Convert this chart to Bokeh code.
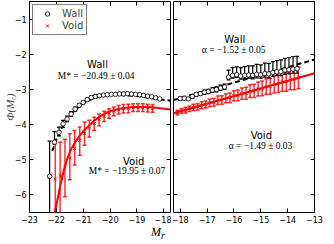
from bokeh.plotting import figure
from bokeh.models import Range1d, FixedTicker, LinearAxis, Label, Legend, LegendItem, Div
from bokeh.layouts import row, column
from bokeh.embed import file_html
from bokeh.resources import INLINE

# ---------------- data ----------------
# left panel (bright end)
wall_left_M = [-22.25, -22.07, -21.9, -21.75, -21.6, -21.45, -21.3, -21.15, -21.0, -20.85,
               -20.7, -20.55, -20.4, -20.25, -20.1, -19.95, -19.8, -19.65, -19.5, -19.35,
               -19.2, -19.05, -18.9, -18.75, -18.6, -18.45, -18.3, -18.15]
wall_left_phi = [-5.47, -4.50, -4.22, -3.98, -3.84, -3.70, -3.56, -3.45, -3.37, -3.29,
                 -3.23, -3.20, -3.18, -3.16, -3.15, -3.14, -3.14, -3.13, -3.13, -3.12,
                 -3.13, -3.14, -3.15, -3.17, -3.19, -3.21, -3.24, -3.27]
wall_left_up = [1.00, 0.30, 0.15, 0.10, 0.08, 0.07, 0.06, 0.05, 0.04, 0.04,
                0.04, 0.03, 0.03, 0.03, 0.03, 0.03, 0.03, 0.03, 0.03, 0.03,
                0.03, 0.03, 0.03, 0.03, 0.03, 0.03, 0.03, 0.03]
wall_left_dn = [2.00, 0.05, 0.10, 0.10, 0.08, 0.07, 0.06, 0.05, 0.04, 0.04,
                0.04, 0.03, 0.03, 0.03, 0.03, 0.03, 0.03, 0.03, 0.03, 0.03,
                0.03, 0.03, 0.03, 0.03, 0.03, 0.03, 0.03, 0.03]

void_left_M = [-22.04, -21.86, -21.68, -21.5, -21.32, -21.13, -20.95, -20.77, -20.59, -20.41,
               -20.22, -20.04, -19.86, -19.68, -19.5, -19.32, -19.14, -18.96, -18.78, -18.6, -18.42]
void_left_phi = [-5.55, -5.45, -5.20, -4.95, -4.68, -4.45, -4.25, -4.10, -3.97, -3.86,
                 -3.76, -3.68, -3.62, -3.58, -3.55, -3.54, -3.52, -3.52, -3.52, -3.53, -3.54]
void_left_up = [1.10, 0.95, 0.78, 0.69, 0.51, 0.38, 0.32, 0.22, 0.18, 0.16,
                0.14, 0.13, 0.12, 0.12, 0.12, 0.12, 0.11, 0.11, 0.11, 0.11, 0.11]
void_left_dn = [2.00, 2.00, 0.85, 0.62, 0.47, 0.42, 0.34, 0.25, 0.20, 0.17,
                0.15, 0.14, 0.13, 0.12, 0.12, 0.12, 0.11, 0.11, 0.11, 0.11, 0.11]

# fitted Schechter curves
wall_fit_left_M = [-22.15, -22.0, -21.85, -21.7, -21.5, -21.3, -21.1, -20.9, -20.7, -20.5,
                   -20.2, -19.9, -19.6, -19.3, -19.0, -18.7, -18.4, -18.1, -17.75]
wall_fit_left_phi = [-4.75, -4.42, -4.17, -3.97, -3.76, -3.59, -3.45, -3.35, -3.28, -3.23,
                     -3.18, -3.16, -3.16, -3.17, -3.19, -3.22, -3.25, -3.29, -3.32]
void_fit_left_M = [-22.06, -21.95, -21.85, -21.72, -21.6, -21.45, -21.3, -21.15, -21.0, -20.8,
                   -20.6, -20.4, -20.2, -20.0, -19.7, -19.4, -19.1, -18.8, -18.5, -18.2, -17.75]
void_fit_left_phi = [-6.5, -6.1, -5.72, -5.3, -4.98, -4.7, -4.5, -4.33, -4.19, -4.04,
                     -3.9, -3.78, -3.69, -3.62, -3.56, -3.52, -3.5, -3.5, -3.51, -3.53, -3.57]

# right panel (faint end)
wall_right_M = [-18.0, -17.85, -17.7, -17.55, -17.4, -17.25, -17.1, -16.95, -16.8, -16.65,
                -16.5, -16.35, -16.2, -16.05, -15.9, -15.75, -15.6, -15.45, -15.3, -15.15,
                -15.0, -14.85, -14.7, -14.55, -14.4, -14.25, -14.1, -13.95, -13.8, -13.65]
wall_right_phi = [-3.26, -3.25, -3.27, -3.20, -3.14, -3.12, -3.08, -3.06, -3.02, -3.00,
                  -2.96, -2.93, -2.65, -2.60, -2.58, -2.62, -2.60, -2.59, -2.60, -2.57,
                  -2.58, -2.55, -2.56, -2.52, -2.50, -2.49, -2.45, -2.44, -2.42, -2.41]
wall_right_up = [0.04, 0.04, 0.04, 0.05, 0.05, 0.05, 0.06, 0.06, 0.07, 0.07,
                 0.08, 0.08, 0.20, 0.22, 0.22, 0.24, 0.25, 0.26, 0.27, 0.28,
                 0.28, 0.30, 0.30, 0.31, 0.32, 0.33, 0.33, 0.34, 0.35, 0.35]
wall_right_dn = [0.04, 0.04, 0.04, 0.05, 0.05, 0.05, 0.06, 0.06, 0.06, 0.07,
                 0.07, 0.07, 0.08, 0.08, 0.08, 0.09, 0.09, 0.09, 0.10, 0.10,
                 0.10, 0.10, 0.11, 0.11, 0.11, 0.12, 0.12, 0.12, 0.12, 0.13]

void_right_M = [-18.1, -17.95, -17.8, -17.65, -17.5, -17.35, -17.2, -17.05, -16.9, -16.75,
                -16.6, -16.45, -16.3, -16.15, -16.0, -15.85, -15.7, -15.55, -15.4, -15.25,
                -15.1, -14.95, -14.8, -14.65, -14.5, -14.35, -14.2, -14.05, -13.9, -13.75, -13.6]
void_right_phi = [-3.66, -3.61, -3.59, -3.55, -3.51, -3.50, -3.45, -3.43, -3.38, -3.37,
                  -3.31, -3.30, -3.25, -3.24, -3.18, -3.17, -3.12, -3.11, -3.05, -3.04,
                  -2.99, -2.97, -2.92, -2.91, -2.86, -2.84, -2.79, -2.78, -2.73, -2.71, -2.67]
void_right_err = [0.07, 0.07, 0.08, 0.08, 0.09, 0.09, 0.10, 0.10, 0.11, 0.11,
                  0.12, 0.12, 0.13, 0.14, 0.14, 0.15, 0.16, 0.17, 0.18, 0.19,
                  0.20, 0.21, 0.22, 0.23, 0.24, 0.25, 0.26, 0.27, 0.28, 0.30, 0.31]

wall_fit_right_M = [-18.25, -13.0]
wall_fit_right_phi = [-3.30, -2.15]
void_fit_right_M = [-18.25, -13.0]
void_fit_right_phi = [-3.68, -2.54]

left_xticks = [-23, -22, -21, -20, -19, -18]
right_xticks = [-18, -17, -16, -15, -14, -13]
yticks = [-6, -5, -4, -3, -2, -1]

RED = "#ff0000"
FONT = "DejaVu Sans"
SERIF = "Liberation Serif"


def lab(t):
    return ("\u2212%d" % -t) if t < 0 else str(t)


def style_axis(ax, ticks, labels=True):
    ax.ticker = FixedTicker(ticks=ticks)
    ax.major_tick_in = 4
    ax.major_tick_out = 0
    ax.minor_tick_line_color = None
    ax.axis_line_color = None
    ax.major_tick_line_color = "black"
    ax.major_tick_line_width = 1
    ax.major_label_text_font = FONT
    ax.major_label_text_font_size = "8px"
    ax.major_label_text_color = "black"
    if labels:
        ax.major_label_standoff = 3
        ax.major_label_overrides = {t: lab(t) for t in ticks}
    else:
        ax.major_label_standoff = 0
        ax.major_label_overrides = {t: "" for t in ticks}


def make_fig(xr, xticks, left_border, right_border, ylabels):
    p = figure(frame_width=141, frame_height=211,
               x_range=Range1d(*xr), y_range=Range1d(-6.5, -0.5),
               output_backend="svg", toolbar_location=None,
               min_border_left=left_border, min_border_right=right_border,
               min_border_top=1, min_border_bottom=0)
    p.xgrid.visible = False
    p.ygrid.visible = False
    p.outline_line_color = "black"
    p.outline_line_width = 1
    p.background_fill_color = "white"
    p.border_fill_color = "white"
    style_axis(p.xaxis[0], xticks, True)
    style_axis(p.yaxis[0], yticks, ylabels)
    top = LinearAxis()
    style_axis(top, xticks, False)
    p.add_layout(top, "above")
    right = LinearAxis()
    style_axis(right, yticks, False)
    p.add_layout(right, "right")
    return p


def errorbars(p, xs, ys, up, dn, color, width, alpha):
    lo = [y - d for y, d in zip(ys, dn)]
    hi = [y + u for y, u in zip(ys, up)]
    p.segment(x0=xs, y0=lo, x1=xs, y1=hi, line_color=color, line_width=width, line_alpha=alpha)
    p.scatter(x=xs, y=hi, marker="dash", size=4, line_color=color, line_width=width, line_alpha=alpha)
    p.scatter(x=xs, y=lo, marker="dash", size=4, line_color=color, line_width=width, line_alpha=alpha)


def add_text(p, x, y, text, font, size, style="normal"):
    p.add_layout(Label(x=x, y=y, text=text, text_font=font, text_font_size=size,
                       text_font_style=style, text_align="center", text_baseline="middle",
                       text_color="black"))


# ---------------- left panel ----------------
p1 = make_fig((-23, -17.75), left_xticks, 21, 1, True)
p1.yaxis[0].axis_label = "\u03a6(M\u1d63)"
p1.yaxis[0].axis_label_text_font = SERIF
p1.yaxis[0].axis_label_text_font_style = "italic"
p1.yaxis[0].axis_label_text_font_size = "11px"
p1.yaxis[0].axis_label_standoff = -4

p1.line(void_fit_left_M, void_fit_left_phi, line_color=RED, line_width=2)
p1.line(wall_fit_left_M, wall_fit_left_phi, line_color="black", line_width=2, line_dash="5 3")
errorbars(p1, void_left_M, void_left_phi, void_left_up, void_left_dn, RED, 1.5, 0.8)
rv1 = p1.scatter(void_left_M, void_left_phi, marker="x", size=4, line_color=RED, line_width=1)
errorbars(p1, wall_left_M, wall_left_phi, wall_left_up, wall_left_dn, "black", 1.2, 1)
rw1 = p1.scatter(wall_left_M, wall_left_phi, marker="circle", size=4.5,
                 fill_color="white", line_color="black", line_width=0.8)

add_text(p1, -20.47, -2.29, "Wall", FONT, "10px")
add_text(p1, -20.52, -2.62, "M* = \u221220.49 \u00b1 0.04", SERIF, "9.5px")
add_text(p1, -19.12, -5.05, "Void", FONT, "10px")
add_text(p1, -19.37, -5.33, "M* = \u221219.95 \u00b1 0.07", SERIF, "9.5px")

legend = Legend(items=[LegendItem(label="Wall", renderers=[rw1]),
                       LegendItem(label="Void", renderers=[rv1])],
                location="top_left")
legend.label_text_font = FONT
legend.label_text_font_size = "10px"
legend.glyph_width = 22
legend.glyph_height = 11
legend.label_height = 11
legend.spacing = 1
legend.padding = 3
legend.margin = 3
legend.label_standoff = 4
legend.border_line_color = "black"
legend.border_line_width = 1
p1.add_layout(legend)

# ---------------- right panel ----------------
p2 = make_fig((-18.25, -13), right_xticks, 2, 10, False)
p2.line(void_fit_right_M, void_fit_right_phi, line_color=RED, line_width=2)
p2.line(wall_fit_right_M, wall_fit_right_phi, line_color="black", line_width=2, line_dash="5 3")
errorbars(p2, void_right_M, void_right_phi, void_right_err, void_right_err, RED, 1.5, 0.8)
p2.scatter(void_right_M, void_right_phi, marker="x", size=4, line_color=RED, line_width=1)
errorbars(p2, wall_right_M, wall_right_phi, wall_right_up, wall_right_dn, "black", 1.2, 1)
p2.scatter(wall_right_M, wall_right_phi, marker="circle", size=4.5,
           fill_color="white", line_color="black", line_width=0.8)

add_text(p2, -15.97, -1.57, "Wall", FONT, "10px")
add_text(p2, -16.01, -1.87, "\u03b1 = \u22121.52 \u00b1 0.05", SERIF, "9.5px")
add_text(p2, -14.98, -4.32, "Void", FONT, "10px")
add_text(p2, -15.01, -4.61, "\u03b1 = \u22121.49 \u00b1 0.03", SERIF, "9.5px")

xlabel = Div(text="<i>M<sub>r</sub></i>", width=316, height=16, margin=(0, 0, 0, 0),
             styles={"text-align": "center", "font-family": SERIF, "font-size": "12px",
                     "line-height": "14px", "color": "black"})

layout = column(row(p1, p2, spacing=0), xlabel, spacing=0)

open("out.html", "w").write(file_html(layout, INLINE))
